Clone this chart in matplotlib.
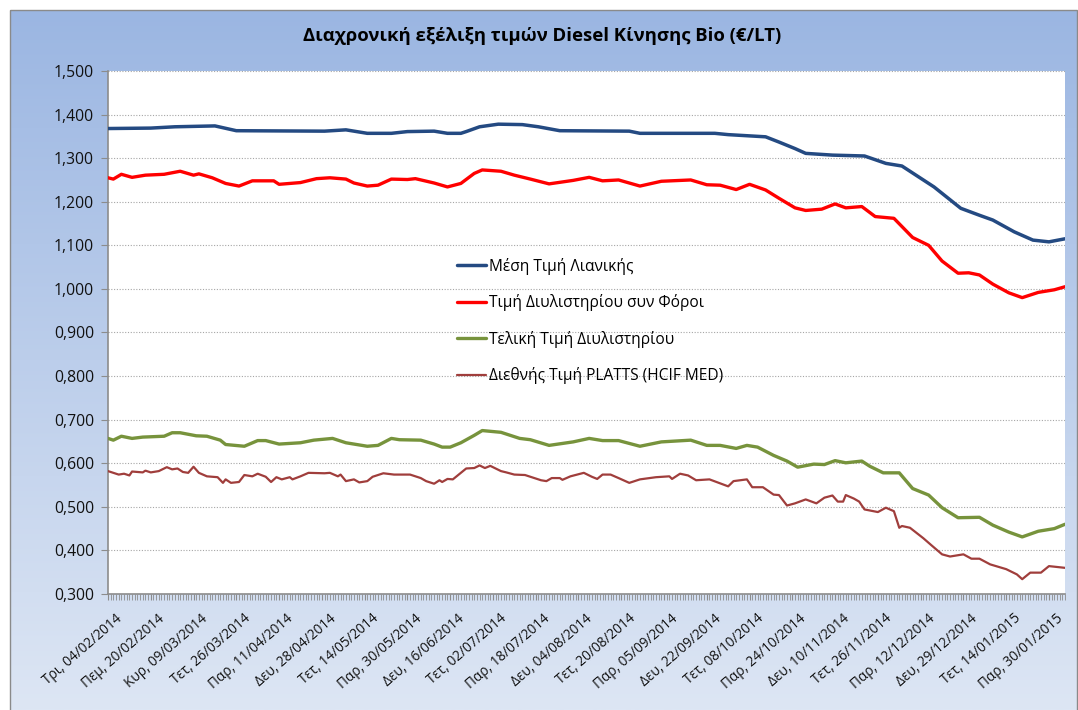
import matplotlib
matplotlib.use("Agg")
import matplotlib.pyplot as plt
import matplotlib.transforms as mtransforms
from matplotlib.patches import Rectangle
from matplotlib.ticker import FixedLocator, FuncFormatter, NullFormatter
import numpy as np

# ---------------- data ----------------
title = "Διαχρονική εξέλιξη τιμών Diesel Κίνησης Bio (€/LT)"
series_names = ["Μέση Τιμή Λιανικής", "Τιμή Διυλιστηρίου συν Φόροι",
                "Τελική Τιμή Διυλιστηρίου", "Διεθνής Τιμή PLATTS (HCIF MED)"]
x_labels = ["Τρι, 04/02/2014", "Πεμ, 20/02/2014", "Κυρ, 09/03/2014", "Τετ, 26/03/2014",
            "Παρ, 11/04/2014", "Δευ, 28/04/2014", "Τετ, 14/05/2014", "Παρ, 30/05/2014",
            "Δευ, 16/06/2014", "Τετ, 02/07/2014", "Παρ, 18/07/2014", "Δευ, 04/08/2014",
            "Τετ, 20/08/2014", "Παρ, 05/09/2014", "Δευ, 22/09/2014", "Τετ, 08/10/2014",
            "Παρ, 24/10/2014", "Δευ, 10/11/2014", "Τετ, 26/11/2014", "Παρ, 12/12/2014",
            "Δευ, 29/12/2014", "Τετ, 14/01/2015", "Παρ, 30/01/2015"]
label_step = 16          # one label every 16 categories
n_categories = 359       # daily categories on the axis
y_ticks = [0.3, 0.4, 0.5, 0.6, 0.7, 0.8, 0.9, 1.0, 1.1, 1.2, 1.3, 1.4, 1.5]

retail_idx = [0, 16, 25, 40, 48, 81, 89, 97, 106, 112, 122, 127, 132, 134, 139, 146,
              155, 161, 169, 195, 199, 227, 232, 246, 251, 257, 261, 271, 283, 291,
              297, 302, 309, 319, 326, 331, 339, 346, 352, 358]
retail_val = [1.368, 1.369, 1.372, 1.374, 1.363, 1.362, 1.365, 1.357, 1.357, 1.361,
              1.362, 1.357, 1.357, 1.361, 1.372, 1.378, 1.377, 1.372, 1.363, 1.362,
              1.357, 1.357, 1.354, 1.349, 1.337, 1.322, 1.311, 1.307, 1.305, 1.288,
              1.282, 1.262, 1.234, 1.185, 1.169, 1.158, 1.131, 1.112, 1.108, 1.115]

taxed_idx = [0, 2, 5, 9, 14, 21, 27, 32, 34, 39, 44, 49, 54, 62, 64, 72, 78, 83, 89,
             92, 97, 101, 106, 112, 115, 122, 127, 132, 137, 140, 147, 152, 158, 165,
             174, 180, 185, 191, 199, 207, 218, 224, 229, 235, 240, 246, 251, 257, 261,
             267, 272, 276, 282, 287, 294, 301, 307, 312, 318, 322, 326, 331, 337, 342,
             348, 354, 358]
taxed_val = [1.255, 1.252, 1.263, 1.256, 1.261, 1.263, 1.270, 1.261, 1.264, 1.255,
             1.242, 1.236, 1.248, 1.248, 1.240, 1.244, 1.253, 1.255, 1.252, 1.243,
             1.236, 1.238, 1.252, 1.251, 1.253, 1.243, 1.234, 1.242, 1.265, 1.273,
             1.270, 1.261, 1.252, 1.241, 1.249, 1.256, 1.248, 1.250, 1.236, 1.247,
             1.250, 1.239, 1.238, 1.228, 1.240, 1.227, 1.208, 1.186, 1.180, 1.183,
             1.195, 1.186, 1.189, 1.166, 1.162, 1.118, 1.100, 1.064, 1.036, 1.037,
             1.032, 1.011, 0.991, 0.980, 0.992, 0.998, 1.005]

refinery_idx = [0, 2, 5, 9, 13, 21, 24, 27, 33, 37, 42, 44, 51, 56, 59, 64, 72, 77, 84,
                89, 93, 97, 101, 106, 109, 117, 122, 125, 128, 132, 137, 140, 147, 154,
                158, 165, 174, 180, 185, 191, 199, 207, 218, 224, 229, 235, 239, 243,
                249, 254, 258, 264, 268, 272, 276, 282, 285, 290, 296, 301, 307, 312,
                318, 326, 331, 337, 342, 348, 354, 358]
refinery_val = [0.657, 0.653, 0.662, 0.657, 0.660, 0.662, 0.670, 0.670, 0.663, 0.662,
                0.653, 0.643, 0.639, 0.652, 0.652, 0.644, 0.647, 0.653, 0.657, 0.647,
                0.643, 0.639, 0.641, 0.657, 0.654, 0.653, 0.644, 0.637, 0.637, 0.647,
                0.664, 0.675, 0.671, 0.657, 0.654, 0.641, 0.649, 0.657, 0.652, 0.652,
                0.639, 0.649, 0.653, 0.641, 0.641, 0.634, 0.641, 0.637, 0.618, 0.605,
                0.591, 0.598, 0.597, 0.606, 0.601, 0.605, 0.593, 0.578, 0.578, 0.542,
                0.527, 0.498, 0.475, 0.476, 0.458, 0.442, 0.431, 0.444, 0.450, 0.460]

platts_idx = [0, 4, 6, 8, 9, 13, 14, 16, 19, 22, 24, 26, 28, 30, 32, 34, 37, 41, 43,
              44, 46, 49, 51, 54, 56, 59, 61, 63, 65, 68, 69, 72, 75, 81, 83, 86, 87,
              89, 92, 94, 97, 99, 103, 107, 113, 117, 119, 122, 124, 125, 127, 129,
              132, 134, 137, 139, 141, 143, 147, 149, 152, 156, 162, 164, 166, 169,
              170, 173, 178, 181, 183, 185, 188, 191, 195, 199, 205, 210, 211, 214,
              217, 220, 225, 232, 234, 239, 241, 245, 249, 251, 254, 257, 261, 265,
              268, 271, 273, 275, 276, 279, 281, 283, 288, 291, 294, 296, 297, 300,
              305, 308, 312, 315, 320, 323, 326, 330, 336, 340, 342, 345, 349, 352, 358]
platts_val = [0.582, 0.574, 0.576, 0.572, 0.581, 0.579, 0.583, 0.579, 0.582, 0.591,
              0.586, 0.588, 0.580, 0.578, 0.592, 0.578, 0.570, 0.568, 0.555, 0.563,
              0.555, 0.557, 0.573, 0.570, 0.576, 0.569, 0.557, 0.568, 0.563, 0.568,
              0.563, 0.570, 0.578, 0.577, 0.578, 0.570, 0.574, 0.559, 0.563, 0.556,
              0.559, 0.569, 0.577, 0.574, 0.574, 0.566, 0.559, 0.553, 0.561, 0.557,
              0.564, 0.563, 0.578, 0.588, 0.589, 0.595, 0.589, 0.594, 0.582, 0.579,
              0.574, 0.573, 0.561, 0.559, 0.566, 0.566, 0.562, 0.570, 0.578, 0.569,
              0.564, 0.574, 0.574, 0.566, 0.555, 0.563, 0.568, 0.570, 0.564, 0.576,
              0.572, 0.561, 0.563, 0.547, 0.559, 0.563, 0.545, 0.545, 0.528, 0.527,
              0.503, 0.508, 0.517, 0.508, 0.521, 0.526, 0.512, 0.512, 0.527, 0.519,
              0.512, 0.494, 0.488, 0.498, 0.490, 0.452, 0.456, 0.452, 0.428, 0.412,
              0.391, 0.386, 0.391, 0.381, 0.381, 0.368, 0.357, 0.345, 0.334, 0.349,
              0.349, 0.364, 0.360]

# ---------------- style ----------------
W, H = 1078, 710
plt.rcParams["font.family"] = ["Open Sans", "DejaVu Sans"]
fig = plt.figure(figsize=(W / 100, H / 100), dpi=100)
fig.patch.set_facecolor("white")

# gradient chart-area background
bg = fig.add_axes([0, 0, 1, 1], zorder=-10)
bg.set_xlim(0, W)
bg.set_ylim(H, 0)
bg.axis("off")
top_c = np.array([155, 182, 226]) / 255
bot_c = np.array([221, 230, 244]) / 255
t = np.linspace(0, 1, 256)[:, None]
grad = (top_c[None, :] * (1 - t) + bot_c[None, :] * t)[:, None, :]
bg.imshow(grad, extent=[10, W - 1, H, 10], aspect="auto", interpolation="bilinear")
bg.add_patch(Rectangle((10, 10), W - 11, H, fill=False, edgecolor="#8a8a8a", lw=1.0))

fig.text(542 / W, 1 - 36 / H, title, ha="center", va="center",
         fontsize=13.3, fontweight="bold", color="black")

left, right, top, bottom = 108, 1065, 71, 594
ax = fig.add_axes([left / W, 1 - bottom / H, (right - left) / W, (bottom - top) / H])
ax.set_facecolor("white")

colors = ["#244a82", "#ff0000", "#77933c", "#a03e3c"]
widths = [2.5, 2.4, 2.4, 1.6]
data = [(retail_idx, retail_val), (taxed_idx, taxed_val),
        (refinery_idx, refinery_val), (platts_idx, platts_val)]
handles = []
for (xi, yv), c, lw, name in zip(data, colors, widths, series_names):
    h, = ax.plot(xi, yv, color=c, lw=lw, label=name, solid_joinstyle="round",
                 solid_capstyle="round", zorder=3)
    handles.append(h)

ax.set_xlim(0, n_categories - 1)
ax.set_ylim(y_ticks[0], y_ticks[-1])
ax.set_yticks(y_ticks)
ax.yaxis.set_major_formatter(FuncFormatter(lambda v, p: f"{v:.3f}".replace(".", ",")))
ax.grid(axis="y", color="#a6a6a6", linestyle=(0, (1, 1.5)), lw=0.8, zorder=0)

major_pos = list(range(0, n_categories, label_step))
ax.xaxis.set_major_locator(FixedLocator(major_pos))
ax.xaxis.set_minor_locator(FixedLocator(list(range(0, n_categories))))
ax.xaxis.set_major_formatter(NullFormatter())

# rotated category labels, top-right corner placed just right of / below each tick
lab_tr = mtransforms.blended_transform_factory(ax.transData, ax.transAxes) + \
    mtransforms.ScaledTranslation(17 / 100, -17 / 100, fig.dpi_scale_trans)
for pos, lab in zip(major_pos, x_labels):
    ax.text(pos, 0, lab, transform=lab_tr, rotation=41, ha="right", va="top",
            fontsize=9.8, color="#111111", clip_on=False)

for s in ["top", "right"]:
    ax.spines[s].set_visible(False)
for s in ["left", "bottom"]:
    ax.spines[s].set_color("#8c8c8c")
    ax.spines[s].set_linewidth(1.2)

ax.tick_params(axis="y", length=5, color="#8c8c8c", labelsize=11.3, pad=5, labelcolor="#111111")
ax.tick_params(axis="x", which="major", length=4, color="#8c8c8c")
ax.tick_params(axis="x", which="minor", length=4, color="#8c8c8c", width=0.6)

ax.legend(handles=handles, loc="center left", bbox_to_anchor=(449 / W, 1 - 321 / H),
          bbox_transform=fig.transFigure, frameon=False, fontsize=11.2,
          handlelength=1.9, handletextpad=0.2, labelspacing=1.25, borderpad=0)

fig.savefig("out.png", dpi=100, facecolor=fig.get_facecolor())
